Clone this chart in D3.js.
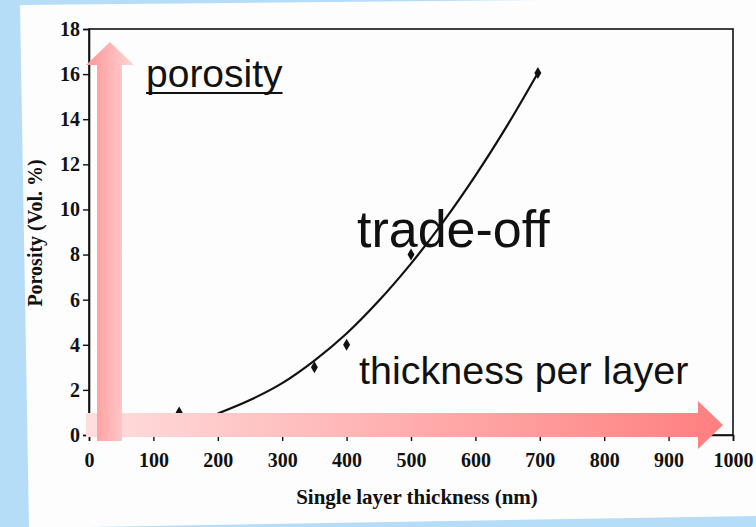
<!DOCTYPE html>
<html>
<head>
<meta charset="utf-8">
<script src="https://cdn.jsdelivr.net/npm/d3@7"></script>
<style>
  html, body { margin: 0; padding: 0; background: #b5ddf8; }
  svg { display: block; }
</style>
</head>
<body>
<svg id="chart" width="756" height="527"></svg>
<script>
// ---- data ----
const xTicks = [0, 100, 200, 300, 400, 500, 600, 700, 800, 900, 1000];
const yTicks = [0, 2, 4, 6, 8, 10, 12, 14, 16, 18];
const thickness = [140, 350, 400, 500, 697];        // nm
const porosity  = [1.0, 3.0, 4.0, 8.0, 16.05];       // vol. %
const fitThickness = [200, 250, 300, 350, 400, 450, 500, 550, 600, 650, 697];
const fitPorosity  = [0.95, 1.55, 2.3, 3.3, 4.5, 5.95, 7.6, 9.45, 11.5, 13.75, 16.05];
const xTitle = "Single layer thickness (nm)";
const yTitle = "Porosity (Vol. %)";
const noteTop = "porosity";
const noteMid = "trade-off";
const noteBottom = "thickness per layer";

const svg = d3.select("#chart");

// background and white scanned panel
svg.append("rect").attr("width", 756).attr("height", 527).attr("fill", "#b5ddf8");
svg.append("polygon")
  .attr("points", "20,5 756,-2 756,516 29,528")
  .attr("fill", "#fdfdfd");

const x = d3.scaleLinear().domain([0, 1000]).range([89, 733]);
const y = d3.scaleLinear().domain([0, 18]).range([435, 29]);

const serif = "'Liberation Serif', 'Times New Roman', serif";
const sans = "'Liberation Sans', Arial, sans-serif";

// frame
svg.append("rect")
  .attr("x", x(0)).attr("y", y(18))
  .attr("width", x(1000) - x(0)).attr("height", y(0) - y(18))
  .attr("fill", "none").attr("stroke", "#111").attr("stroke-width", 1.6);

// axes
const xAxis = svg.append("g")
  .attr("transform", `translate(0,${y(0)})`)
  .call(d3.axisBottom(x).tickValues(xTicks).tickSize(6).tickPadding(12).tickFormat(d3.format("d")));
const yAxis = svg.append("g")
  .attr("transform", `translate(${x(0)},0)`)
  .call(d3.axisLeft(y).tickValues(yTicks).tickSize(6).tickPadding(3).tickFormat(d3.format("d")));

[xAxis, yAxis].forEach(g => {
  g.attr("font-size", null).attr("font-family", null);
  g.select(".domain").attr("stroke", "#111").attr("stroke-width", 1.6);
  g.selectAll(".tick line").attr("stroke", "#111").attr("stroke-width", 1.4);
  g.selectAll(".tick text")
    .attr("fill", "#111")
    .style("font-family", serif)
    .style("font-weight", "bold")
    .style("font-size", "20px");
});

// axis titles
svg.append("text")
  .attr("x", 417).attr("y", 504)
  .attr("text-anchor", "middle")
  .style("font-family", serif).style("font-weight", "bold").style("font-size", "21px")
  .attr("fill", "#111")
  .text(xTitle);
svg.append("text")
  .attr("transform", "translate(42,233) rotate(-90)")
  .attr("text-anchor", "middle")
  .style("font-family", serif).style("font-weight", "bold").style("font-size", "20px")
  .attr("fill", "#111")
  .text(yTitle);

// fitted curve
const line = d3.line()
  .x(d => x(d[0])).y(d => y(d[1]))
  .curve(d3.curveCatmullRom);
svg.append("path")
  .datum(d3.zip(fitThickness, fitPorosity))
  .attr("d", line)
  .attr("fill", "none").attr("stroke", "#111").attr("stroke-width", 2.2);

// data points
svg.selectAll(".pt")
  .data(d3.zip(thickness, porosity))
  .join("path")
  .attr("class", "pt")
  .attr("transform", d => `translate(${x(d[0])},${y(d[1])})`)
  .attr("d", d3.symbol().type(d3.symbolDiamond).size(42))
  .attr("fill", "#111");

// arrows (annotation)
const defs = svg.append("defs");
const gh = defs.append("linearGradient").attr("id", "gh").attr("x1", "0").attr("x2", "1").attr("y1", "0").attr("y2", "0");
gh.append("stop").attr("offset", "0").attr("stop-color", "#ffdede");
gh.append("stop").attr("offset", "1").attr("stop-color", "#ff7f7f");
const gv = defs.append("linearGradient").attr("id", "gv").attr("x1", "0").attr("x2", "1").attr("y1", "0").attr("y2", "0");
gv.append("stop").attr("offset", "0").attr("stop-color", "#ff9494");
gv.append("stop").attr("offset", "1").attr("stop-color", "#ffd6d6");

svg.append("path")
  .attr("d", "M86,413 L698,413 L698,401 L723,425 L698,449 L698,437 L86,437 Z")
  .attr("fill", "url(#gh)");
svg.append("path")
  .attr("d", "M97,441 L97,65 L86,65 L110,42 L134,65 L122,65 L122,441 Z")
  .attr("fill", "url(#gv)");

// annotation texts
const t1 = svg.append("text")
  .attr("x", 146).attr("y", 87)
  .style("font-family", sans).style("font-size", "39px")
  .attr("fill", "#111")
  .text(noteTop);
const w1 = t1.node().getComputedTextLength();
svg.append("line")
  .attr("x1", 146).attr("x2", 146 + w1)
  .attr("y1", 93).attr("y2", 93)
  .attr("stroke", "#111").attr("stroke-width", 2);

svg.append("text")
  .attr("x", 357).attr("y", 247)
  .style("font-family", sans).style("font-size", "52px")
  .attr("fill", "#111")
  .text(noteMid);

svg.append("text")
  .attr("x", 359).attr("y", 384)
  .style("font-family", sans).style("font-size", "39.5px")
  .attr("fill", "#111")
  .text(noteBottom);
</script>
</body>
</html>
